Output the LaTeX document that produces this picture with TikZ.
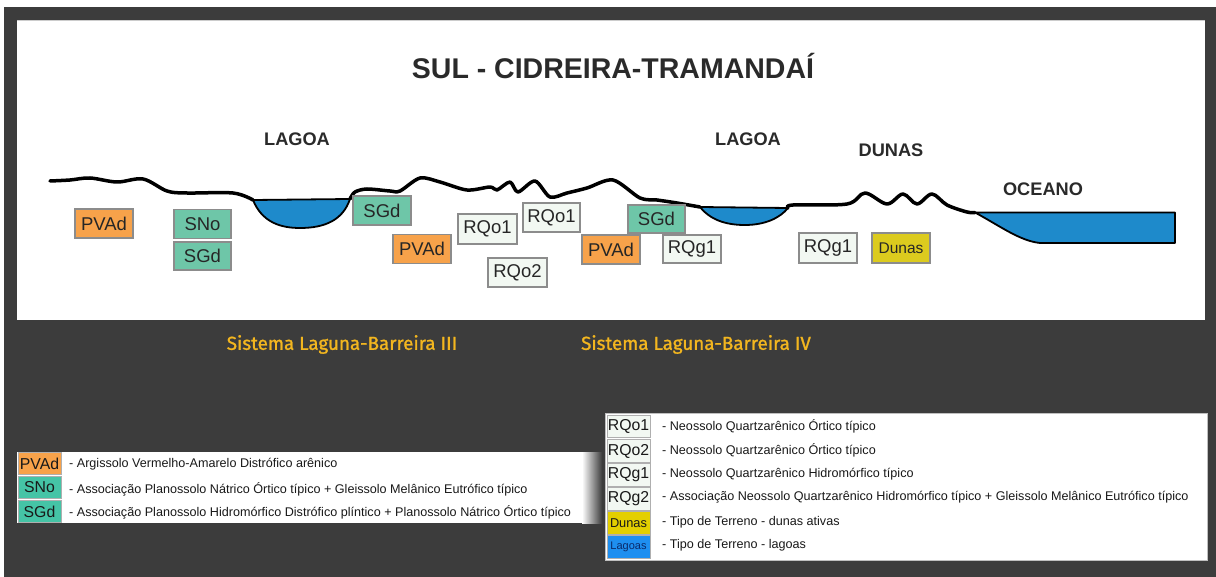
\documentclass[tikz,border=0pt]{standalone}
\usepackage{fontspec}
\setmainfont{Liberation Sans}
\newfontfamily\fira[FakeBold=1.2]{Fira Sans}
\definecolor{bgdark}{HTML}{3C3C3C}
\definecolor{orangebox}{HTML}{F7A24A}
\definecolor{greenbox}{HTML}{6EC6A8}
\definecolor{greenleg}{HTML}{45C4A6}
\definecolor{lightbox}{HTML}{F2F8F2}
\definecolor{water}{HTML}{1E8ACB}
\definecolor{dunasbox}{HTML}{DCCB1E}
\definecolor{dunasleg}{HTML}{E3CF00}
\definecolor{lagoasleg}{HTML}{1E8FF0}
\definecolor{lagoastext}{HTML}{0A2A6A}
\definecolor{gold}{HTML}{F3B61F}
\definecolor{boxborder}{HTML}{8C8C8C}
\definecolor{titlegray}{HTML}{2A2A2A}
\begin{document}
\begin{tikzpicture}[x=1pt,y=-1pt,
  soil/.style={draw=boxborder, line width=1.2pt, inner sep=0pt, minimum width=58pt, minimum height=29pt, text=black!85, font=\fontsize{18.5}{20}\selectfont},
  swatch/.style={draw=boxborder!70, line width=1pt, inner sep=0pt, minimum width=43pt, minimum height=22.5pt, text=black!90, font=\fontsize{15.8}{16}\selectfont},
  legtext/.style={anchor=west, inner sep=0pt, text=black!90, font=\fontsize{12.6}{14}\selectfont},
  place/.style={text=titlegray, font=\fontsize{18.2}{20}\selectfont\bfseries},
  sistema/.style={text=gold, font=\fira\fontsize{18.8}{20}\selectfont},
  profile/.style={line width=3.5pt, line cap=round, line join=round},
  lake/.style={fill=water, draw=black, line width=1.8pt, line join=round}]
\useasboundingbox (0,0) rectangle (1216,577);
\fill[white] (0,0) rectangle (1216,577);
\fill[bgdark] (4,7) rectangle (1216,577);
\fill[white] (17,20) rectangle (1205,320);
\draw[gray!40, line width=0.8pt] (17,20.5) -- (1205,20.5);

% title and place labels
\node[text=titlegray, font=\fontsize{28.5}{30}\selectfont\bfseries] (title) at (613,66) {SUL - CIDREIRA-TRAMANDAÍ};
\node[place] (lagoa1) at (297,139.5) {LAGOA};
\node[place] (lagoa2) at (748,139) {LAGOA};
\node[place] (dunas) at (891,150) {DUNAS};
\node[place] (oceano) at (1043,189) {OCEANO};

% water bodies
\filldraw[lake] (253,200) .. controls (262,222) and (280,228) .. (300,228) .. controls (325,228) and (343,220) .. (350,199) -- cycle;
\filldraw[lake] (700,207) .. controls (712,222) and (730,225) .. (745,225) .. controls (765,225) and (780,218) .. (788,208) -- cycle;
\filldraw[lake] (975,212.5) -- (1175,212.5) -- (1175,243) -- (1040,243) .. controls (1020,241) and (1000,226) .. (975,212.5) -- cycle;

% terrain profile
\draw[profile] plot[smooth, tension=0.55] coordinates {(50,181) (70,180) (90,178) (117,182) (143,179) (167,191) (187,193) (233,193) (253,200)};
\draw[profile] plot[smooth, tension=0.5] coordinates {(350,199) (355,192) (367,189) (390,191) (400,191) (420,178) (440,182) (467,190) (490,187) (497,190) (510,182) (518,192) (535,181) (550,197) (567,193) (587,188) (613,180) (640,198) (657,200) (677,203) (700,207)};
\draw[profile] plot[smooth, tension=0.55] coordinates {(788,208) (793,205) (847,204) (865,193) (887,204) (903,194) (917,204) (932,194) (947,205) (967,212) (975,212.5)};

% soil boxes
\node[soil, fill=orangebox] (pvad1) at (104,223.5) {PVAd};
\node[soil, fill=greenbox, minimum width=57pt] (sno) at (202.5,224) {SNo};
\node[soil, fill=greenbox, minimum width=57pt, minimum height=28pt] (sgd1) at (202.5,256) {SGd};
\node[soil, fill=greenbox] (sgd2) at (382,210.5) {SGd};
\node[soil, fill=orangebox] (pvad2) at (422,249) {PVAd};
\node[soil, fill=lightbox, minimum width=59pt, minimum height=30pt] (rqo1a) at (487.5,229) {RQo1};
\node[soil, fill=lightbox, minimum width=57pt] (rqo1b) at (551.5,217.5) {RQo1};
\node[soil, fill=lightbox, minimum width=59pt] (rqo2) at (517.5,272.5) {RQo2};
\node[soil, fill=orangebox] (pvad3) at (611,249.5) {PVAd};
\node[soil, fill=greenbox, minimum width=57pt, minimum height=28pt] (sgd3) at (656.5,219) {SGd};
\node[soil, fill=lightbox, minimum height=28pt] (rqg1a) at (692,249) {RQg1};
\node[soil, fill=lightbox, minimum height=30pt] (rqg1b) at (828,248) {RQg1};
\node[soil, fill=dunasbox, minimum height=30pt, font=\fontsize{15.5}{16}\selectfont] (dunasbox) at (901,248) {Dunas};

% system labels
\node[sistema] (sis3) at (342,344.5) {Sistema Laguna-Barreira III};
\node[sistema] (sis4) at (696,344.5) {Sistema Laguna-Barreira IV};

% left legend
\fill[white] (17,452) rectangle (582,523);
\shade[left color=white, right color=bgdark] (582,452) rectangle (602,523);
\node[swatch, fill=orangebox] (lpvad) at (39.5,463.5) {PVAd};
\node[swatch, fill=greenleg] (lsno) at (39.5,487.5) {SNo};
\node[swatch, fill=greenleg] (lsgd) at (39.5,511.5) {SGd};
\node[legtext] (tpvad) at (69,464) {- Argissolo Vermelho-Amarelo Distrófico arênico};
\node[legtext] (tsno) at (69,489) {- Associação Planossolo Nátrico Órtico típico + Gleissolo Melânico Eutrófico típico};
\node[legtext] (tsgd) at (69,512) {- Associação Planossolo Hidromórfico Distrófico plíntico + Planossolo Nátrico Órtico típico};

% right legend
\filldraw[fill=white, draw=gray!50, line width=0.6pt] (605,413) rectangle (1207,560);
\node[swatch, fill=lightbox] (lrqo1) at (628.5,426.5) {RQo1};
\node[swatch, fill=lightbox] (lrqo2) at (628.5,451) {RQo2};
\node[swatch, fill=lightbox] (lrqg1) at (628.5,475) {RQg1};
\node[swatch, fill=lightbox] (lrqg2) at (628.5,499) {RQg2};
\node[swatch, fill=dunasleg, font=\fontsize{12.8}{14}\selectfont] (ldunas) at (628.5,523) {Dunas};
\node[swatch, fill=lagoasleg, text=lagoastext, font=\fontsize{11}{12}\selectfont] (llagoas) at (628.5,547) {Lagoas};
\node[legtext] (trqo1) at (662,426) {- Neossolo Quartzarênico Órtico típico};
\node[legtext] (trqo2) at (662,450) {- Neossolo Quartzarênico Órtico típico};
\node[legtext] (trqg1) at (662,474) {- Neossolo Quartzarênico Hidromórfico típico};
\node[legtext] (trqg2) at (662,497) {- Associação Neossolo Quartzarênico Hidromórfico típico + Gleissolo Melânico Eutrófico típico};
\node[legtext] (tdunas) at (662,522) {- Tipo de Terreno - dunas ativas};
\node[legtext] (tlagoas) at (662,545) {- Tipo de Terreno - lagoas};
\end{tikzpicture}
\end{document}
